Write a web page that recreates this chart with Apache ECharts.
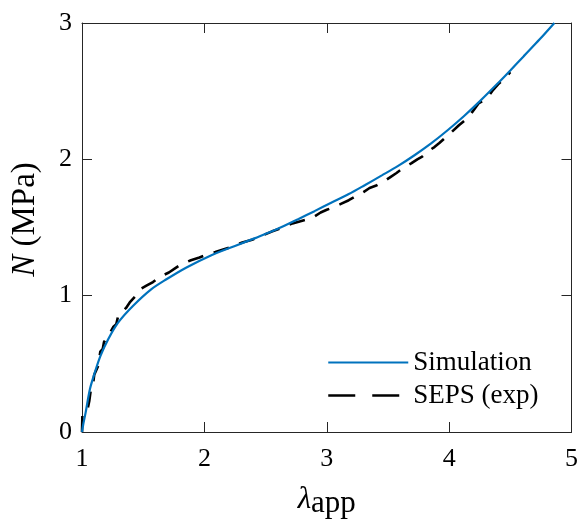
<!DOCTYPE html>
<html>
<head>
<meta charset="utf-8">
<script src="https://cdn.jsdelivr.net/npm/echarts@6/dist/echarts.min.js"></script>
<style>html,body{margin:0;padding:0;background:#fff;}#c{width:581px;height:524px;}</style>
</head>
<body>
<div id="c"></div>
<script>
// Simulation curve
var simLambda = [1.000,1.011,1.030,1.065,1.105,1.151,1.214,1.295,1.416,1.565,1.690,1.850,2.040,2.250,2.420,2.600,2.770,2.900,3.040,3.180,3.310,3.450,3.580,3.720,3.850,3.990,4.120,4.250,4.390,4.500,4.610,4.740,4.860];
var simN      = [0.000,0.060,0.144,0.315,0.437,0.558,0.680,0.802,0.924,1.046,1.120,1.205,1.290,1.365,1.424,1.490,1.563,1.620,1.683,1.745,1.810,1.882,1.950,2.032,2.115,2.215,2.316,2.425,2.550,2.652,2.757,2.880,3.000];
// SEPS experimental data
var expLambda = [1.000,1.003,1.040,1.060,1.075,1.090,1.100,1.130,1.150,1.170,1.180,1.200,1.230,1.255,1.280,1.295,1.320,1.360,1.390,1.420,1.440,1.480,1.530,1.580,1.640,1.710,1.760,1.810,1.890,1.960,2.040,2.090,2.160,2.230,2.310,2.390,2.470,2.550,2.640,2.720,2.800,2.880,2.950,3.000,3.060,3.120,3.180,3.240,3.300,3.350,3.410,3.470,3.520,3.570,3.630,3.690,3.740,3.780,3.830,3.880,3.920,3.970,4.020,4.080,4.120,4.160,4.200,4.240,4.280,4.320,4.360,4.400,4.450,4.500];
var expN      = [0.000,0.120,0.145,0.230,0.330,0.350,0.420,0.480,0.590,0.610,0.660,0.690,0.730,0.770,0.790,0.850,0.880,0.910,0.950,0.980,1.000,1.050,1.075,1.100,1.140,1.170,1.200,1.230,1.260,1.280,1.310,1.320,1.340,1.360,1.390,1.410,1.440,1.470,1.500,1.530,1.550,1.570,1.610,1.630,1.650,1.675,1.700,1.730,1.760,1.790,1.810,1.840,1.870,1.900,1.940,1.970,2.000,2.020,2.060,2.090,2.120,2.160,2.200,2.250,2.280,2.310,2.360,2.410,2.430,2.460,2.510,2.550,2.590,2.640];
var xTicks = [1,2,3,4,5];
var yTicks = [0,1,2,3];
var seriesNames = ['Simulation','SEPS (exp)'];

function pairs(a,b){var r=[];for(var i=0;i<a.length;i++){r.push([a[i],b[i]]);}return r;}

var FONT = 'Liberation Serif';
var axisColor = '#262626';
var chart = echarts.init(document.getElementById('c'), null, {renderer:'canvas'});
var baseX = {type:'value', min:xTicks[0], max:xTicks[xTicks.length-1], interval:1,
  axisLine:{show:true, onZero:false, lineStyle:{color:axisColor,width:1}},
  axisTick:{show:true, inside:true, length:10, lineStyle:{color:axisColor}},
  splitLine:{show:false}};
var baseY = {type:'value', min:yTicks[0], max:yTicks[yTicks.length-1], interval:1,
  axisLine:{show:true, onZero:false, lineStyle:{color:axisColor,width:1}},
  axisTick:{show:true, inside:true, length:10, lineStyle:{color:axisColor}},
  splitLine:{show:false}};

chart.setOption({
  animation:false,
  backgroundColor:'#fff',
  grid:{left:82, right:6, top:23, bottom:91, containLabel:false},
  xAxis:[
    Object.assign({}, baseX, {position:'bottom',
      axisLabel:{show:true, margin:14, color:'#000', fontFamily:FONT, fontSize:26},
      name:'{i|λ}{s|app}', nameLocation:'middle', nameGap:48,
      nameTextStyle:{rich:{i:{fontFamily:FONT, fontStyle:'italic', fontSize:31, color:'#000'},
                           s:{fontFamily:FONT, fontSize:31, color:'#000', padding:[8,0,0,0]}}}}),
    Object.assign({}, baseX, {position:'top', axisLabel:{show:false}})
  ],
  yAxis:[
    Object.assign({}, baseY, {position:'left',
      axisLabel:{show:true, margin:10, color:'#000', fontFamily:FONT, fontSize:26},
      name:'{i|N} (MPa)', nameLocation:'middle', nameGap:40, nameRotate:90,
      nameTextStyle:{rich:{i:{fontFamily:FONT, fontStyle:'italic', fontSize:33, color:'#000'}},
                     fontFamily:FONT, fontSize:33, color:'#000', padding:[0,0,0,16]}}),
    Object.assign({}, baseY, {position:'right', axisLabel:{show:false}})
  ],
  legend:{
    show:true, orient:'vertical', left:327, top:349, padding:0, itemWidth:80, itemHeight:14, itemGap:6,
    textStyle:{fontFamily:FONT, fontSize:27, color:'#000'},
    data:[
      {name:seriesNames[0], itemStyle:{opacity:0}, lineStyle:{width:2.2, color:'#0072BD'}},
      {name:seriesNames[1], itemStyle:{opacity:0}, lineStyle:{type:[27,17], width:2.5, color:'#000'}}
    ]
  },
  series:[
    {name:seriesNames[0], type:'line', data:pairs(simLambda,simN), showSymbol:false, symbol:'none',
     smooth:0.3, z:3,
     lineStyle:{color:'#0072BD', width:2.2}, itemStyle:{color:'#0072BD'}},
    {name:seriesNames[1], type:'line', data:pairs(expLambda,expN), showSymbol:false, symbol:'none',
     z:2, lineStyle:{color:'#000', width:2.6, type:[16,11]}, itemStyle:{color:'#000'}}
  ]
});
</script>
</body>
</html>
